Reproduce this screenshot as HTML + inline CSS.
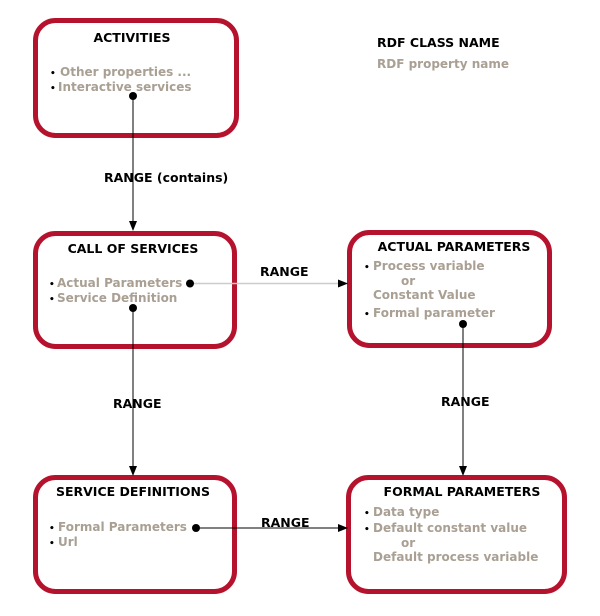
<!DOCTYPE html>
<html><head><meta charset="utf-8"><style>
html,body{margin:0;padding:0;background:#fff;width:600px;height:616px;overflow:hidden}
text{font-family:"DejaVu Sans","Liberation Sans",sans-serif;font-weight:bold;font-size:12px}
.t{fill:#000;font-size:12.5px}
.g{fill:#a99f93}
.b{fill:#000;font-size:9px}
</style></head><body>
<svg width="600" height="616" viewBox="0 0 600 616" xmlns="http://www.w3.org/2000/svg">
<defs><marker id="a" markerWidth="10" markerHeight="8" refX="9" refY="4" orient="auto" markerUnits="userSpaceOnUse"><path d="M0,0 L10,4 L0,8 z" fill="#000"/></marker></defs>
<g fill="none" stroke="#b5122e" stroke-width="5">
<rect x="35.5" y="20.5" width="201" height="115" rx="20"/>
<rect x="35.5" y="233.5" width="199" height="113" rx="20"/>
<rect x="349.5" y="232.5" width="200" height="113" rx="20"/>
<rect x="35.5" y="477.5" width="199" height="114" rx="20"/>
<rect x="348.5" y="477.5" width="216" height="114" rx="20"/>
</g>
<g stroke="#000" stroke-width="1" fill="none">
<line x1="133" y1="96" x2="133" y2="230" marker-end="url(#a)"/>
<line x1="133" y1="308" x2="133" y2="475" marker-end="url(#a)"/>
<line x1="463" y1="324" x2="463" y2="475" marker-end="url(#a)"/>
<line x1="196" y1="528" x2="347" y2="528" marker-end="url(#a)"/>
</g>
<line x1="189" y1="283.5" x2="347" y2="283.5" stroke="#ccc" stroke-width="1.5" marker-end="url(#a)"/>
<g fill="#000"><circle cx="133" cy="96" r="4"/><circle cx="190" cy="283.5" r="4"/><circle cx="133" cy="308" r="4"/><circle cx="463" cy="324" r="4"/><circle cx="196" cy="528" r="4"/></g>

<text class="t" x="132" y="42" text-anchor="middle">ACTIVITIES</text>
<text class="b" x="50" y="76">•</text><text class="g" x="60" y="76">Other properties ...</text>
<text class="b" x="50" y="91">•</text><text class="g" x="58" y="91">Interactive services</text>

<text class="t" x="377" y="47">RDF CLASS NAME</text>
<text class="g" x="377" y="68">RDF property name</text>

<text class="t" x="104" y="182">RANGE (contains)</text>

<text class="t" x="133" y="253" text-anchor="middle">CALL OF SERVICES</text>
<text class="b" x="49" y="287">•</text><text class="g" x="57" y="287">Actual Parameters</text>
<text class="b" x="49" y="302">•</text><text class="g" x="57" y="302">Service Definition</text>

<text class="t" x="260" y="276">RANGE</text>

<text class="t" x="454" y="251" text-anchor="middle">ACTUAL PARAMETERS</text>
<text class="b" x="364" y="270">•</text><text class="g" x="373" y="270">Process variable</text>
<text class="g" x="401" y="285">or</text>
<text class="g" x="373" y="299">Constant Value</text>
<text class="b" x="364" y="317">•</text><text class="g" x="373" y="317">Formal parameter</text>

<text class="t" x="113" y="408">RANGE</text>
<text class="t" x="441" y="406">RANGE</text>

<text class="t" x="133" y="496" text-anchor="middle">SERVICE DEFINITIONS</text>
<text class="b" x="49" y="531">•</text><text class="g" x="58" y="531">Formal Parameters</text>
<text class="b" x="49" y="546">•</text><text class="g" x="58" y="546">Url</text>

<text class="t" x="261" y="527">RANGE</text>

<text class="t" x="462" y="496" text-anchor="middle">FORMAL PARAMETERS</text>
<text class="b" x="364" y="516">•</text><text class="g" x="373" y="516">Data type</text>
<text class="b" x="364" y="532">•</text><text class="g" x="373" y="532">Default constant value</text>
<text class="g" x="401" y="547">or</text>
<text class="g" x="373" y="561">Default process variable</text>
</svg>
</body></html>
